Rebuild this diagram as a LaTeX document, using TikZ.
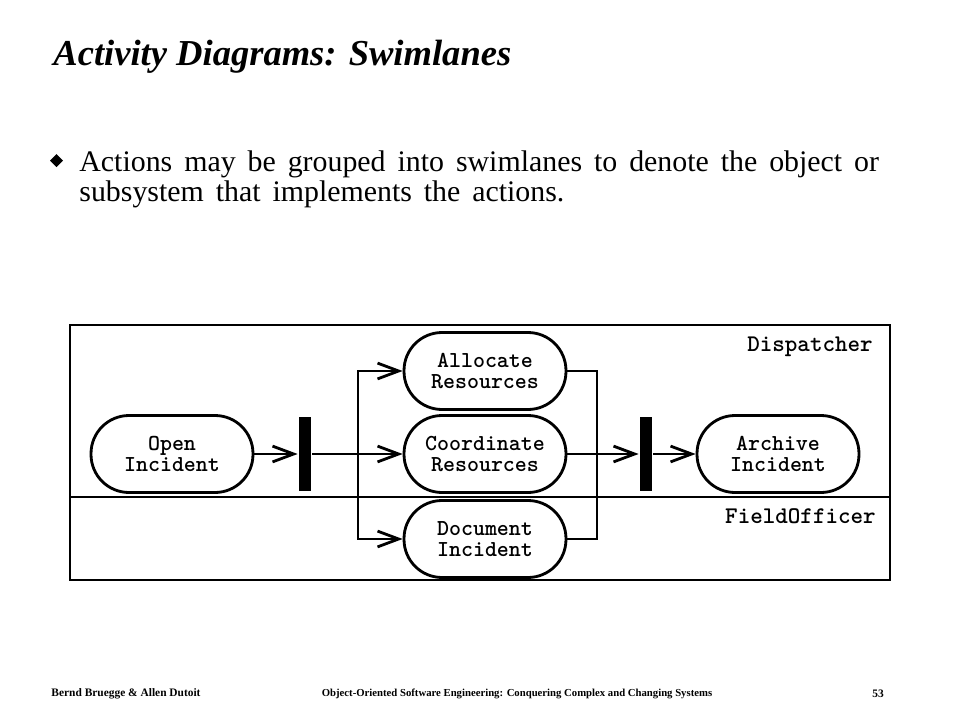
\documentclass[tikz,border=0pt]{standalone}
\usepackage{fontspec}
\setmainfont{Liberation Serif}
\usetikzlibrary{arrows.meta}
\newcommand\widespaces{\spaceskip=6.8pt plus 1pt\relax}

\begin{document}
\begin{tikzpicture}[x=0.02cm, y=-0.02cm, line width=1.6pt,
    arr/.style={-{Straight Barb[length=12pt, width=9pt, line width=1.6pt]}},
    action/.style={draw, rounded corners=0.76cm, minimum width=3.24cm, minimum height=1.54cm,
        align=center, inner sep=0pt, font=\ttfamily\bfseries\fontsize{13}{12}\selectfont},
    bar/.style={fill=black, minimum width=0.24cm, minimum height=1.5cm, inner sep=0pt},
    lane/.style={anchor=east, font=\ttfamily\bfseries\fontsize{13.6}{12}\selectfont}]
    \useasboundingbox (0,0) rectangle (960,720);

    % heading and bullet
    \node[anchor=west, inner sep=0pt, font=\bfseries\itshape\fontsize{20.8}{22}\selectfont] (title) at (52,57) {Activity Diagrams: Swimlanes};
    \fill (56.5,154) -- (63,160.5) -- (56.5,167) -- (50,160.5) -- cycle;
    \node[anchor=west, align=left, inner sep=0pt, font=\fontsize{17}{17}\selectfont] (text) at (78,179)
        {\widespaces Actions may be grouped into swimlanes to denote the object or\\\widespaces subsystem that implements the actions.};

    % swimlanes
    \draw (70,325) rectangle (890,580);
    \draw (70,497) -- (890,497);
    \node[lane] (dispatcher) at (880,347) {Dispatcher};
    \node[lane] (officer) at (883,516) {FieldOfficer};

    % actions
    \node[action] (open) at (172,454) {Open\\Incident};
    \node[bar] (fork) at (305,454) {};
    \node[action] (alloc) at (485,371) {Allocate\\Resources};
    \node[action] (coord) at (485,454) {Coordinate\\Resources};
    \node[action] (doc) at (485,539) {Document\\Incident};
    \node[bar] (join) at (646,454) {};
    \node[action] (archive) at (778,454) {Archive\\Incident};

    \coordinate (split) at (358,454);
    \coordinate (merge) at (597,454);

    \draw[arr] (open) -- (fork);
    \draw[arr] (fork) -- (coord);
    \draw[arr] (split) |- (alloc);
    \draw[arr] (split) |- (doc);
    \draw (alloc) -| (merge);
    \draw (doc) -| (merge);
    \draw[arr] (coord) -- (join);
    \draw[arr] (join) -- (archive);

    % footer
    \node[font=\bfseries\fontsize{6.5}{7}\selectfont] (authors) at (126,694) {Bernd Bruegge \& Allen Dutoit};
    \node[font=\bfseries\fontsize{6.1}{7}\selectfont] (book) at (517,694) {Object-Oriented Software Engineering: Conquering Complex and Changing Systems};
    \node[font=\bfseries\fontsize{6.5}{7}\selectfont] (page) at (878,694) {53};
\end{tikzpicture}
\end{document}
